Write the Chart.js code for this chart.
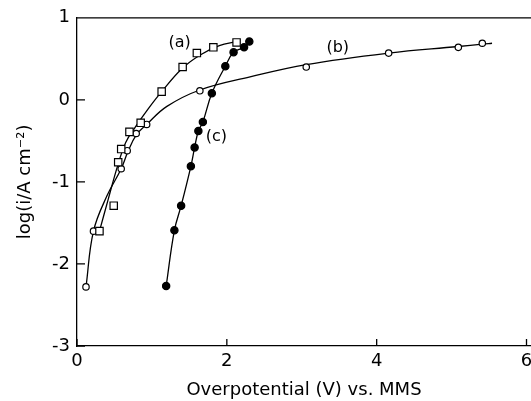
<!DOCTYPE html>
<html>
<head>
<meta charset="utf-8">
<script src="https://cdn.jsdelivr.net/npm/chart.js@4"></script>
<style>
  html, body { margin: 0; padding: 0; background: #fff; overflow: hidden; }
  #wrap { width: 531px; height: 401px; overflow: hidden; }
</style>
</head>
<body>
<div id="wrap"><canvas id="tafelChart" width="545" height="401"></canvas></div>
<script>
// (a) open squares
const aX = [0.30, 0.49, 0.55, 0.59, 0.70, 0.85, 1.13, 1.41, 1.60, 1.82, 2.13];
const aY = [-1.60, -1.29, -0.76, -0.60, -0.39, -0.28, 0.10, 0.40, 0.57, 0.64, 0.70];
// (a) fitted curve
const aCurveX = [0.30, 0.42, 0.55, 0.65, 0.78, 0.95, 1.13, 1.40, 1.65, 1.90, 2.13];
const aCurveY = [-1.60, -1.20, -0.78, -0.52, -0.33, -0.11, 0.10, 0.38, 0.55, 0.66, 0.71];

// (b) open circles
const bX = [0.12, 0.22, 0.59, 0.67, 0.79, 0.93, 1.64, 3.06, 4.16, 5.09, 5.41];
const bY = [-2.28, -1.60, -0.84, -0.62, -0.41, -0.30, 0.11, 0.40, 0.57, 0.64, 0.69];
// (b) fitted curve
const bCurveX = [0.12, 0.22, 0.40, 0.59, 0.68, 0.79, 0.93, 1.20, 1.64, 2.31, 3.06, 4.16, 5.09, 5.41, 5.54];
const bCurveY = [-2.28, -1.60, -1.17, -0.84, -0.63, -0.43, -0.30, -0.08, 0.12, 0.28, 0.43, 0.57, 0.65, 0.68, 0.69];

// (c) filled circles
const cX = [1.19, 1.30, 1.39, 1.52, 1.57, 1.62, 1.68, 1.80, 1.98, 2.09, 2.23, 2.30];
const cY = [-2.27, -1.59, -1.29, -0.81, -0.58, -0.38, -0.27, 0.08, 0.41, 0.58, 0.64, 0.71];

const xTicks = [0, 2, 4, 6];
const yTicks = [1, 0, -1, -2, -3];

const curveTags = ['(a)', '(b)', '(c)'];
const tagX = [1.37, 3.48, 1.86];
const tagY = [0.69, 0.63, -0.45];

const FONT = 'DejaVu Sans';

function pts(xs, ys) {
    return xs.map((x, i) => ({ x, y: ys[i] }));
}

// frame top line, inward ticks and the curve tags
const decorPlugin = {
    id: 'decor',
    afterDraw(chart) {
        const { ctx, chartArea, scales } = chart;
        ctx.save();
        ctx.strokeStyle = '#000';
        ctx.lineWidth = 1.3;
        ctx.beginPath();
        ctx.moveTo(chartArea.left, chartArea.top);
        ctx.lineTo(chartArea.right, chartArea.top);
        xTicks.forEach(v => {
            const px = scales.x.getPixelForValue(v);
            ctx.moveTo(px, chartArea.bottom);
            ctx.lineTo(px, chartArea.bottom - 7);
        });
        yTicks.forEach(v => {
            const py = scales.y.getPixelForValue(v);
            ctx.moveTo(chartArea.left, py);
            ctx.lineTo(chartArea.left + 8, py);
        });
        ctx.stroke();

        ctx.fillStyle = '#000';
        ctx.font = '16px "' + FONT + '"';
        ctx.textAlign = 'center';
        ctx.textBaseline = 'middle';
        curveTags.forEach((t, i) => {
            ctx.fillText(t, scales.x.getPixelForValue(tagX[i]), scales.y.getPixelForValue(tagY[i]));
        });
        ctx.restore();
    }
};

const lineStyle = {
    showLine: true,
    tension: 0.4,
    borderColor: '#000',
    borderWidth: 1.3
};

new Chart(document.getElementById('tafelChart').getContext('2d'), {
    type: 'scatter',
    data: {
        datasets: [
            {
                label: '(a) points',
                data: pts(aX, aY),
                pointStyle: 'rect',
                pointRadius: 5.2,
                backgroundColor: '#fff',
                borderColor: '#000',
                borderWidth: 1.2
            },
            {
                label: '(b) points',
                data: pts(bX, bY),
                pointStyle: 'circle',
                pointRadius: 3.2,
                backgroundColor: '#fff',
                borderColor: '#000',
                borderWidth: 1.2
            },
            Object.assign({
                label: '(c)',
                data: pts(cX, cY),
                pointStyle: 'circle',
                pointRadius: 3.6,
                backgroundColor: '#000'
            }, lineStyle),
            Object.assign({
                label: '(a)',
                data: pts(aCurveX, aCurveY),
                pointRadius: 0
            }, lineStyle),
            Object.assign({
                label: '(b)',
                data: pts(bCurveX, bCurveY),
                pointRadius: 0
            }, lineStyle)
        ]
    },
    options: {
        responsive: false,
        animation: false,
        events: [],
        layout: { padding: { top: 17, right: 14, bottom: 0, left: 0 } },
        plugins: {
            legend: { display: false },
            tooltip: { enabled: false }
        },
        scales: {
            x: {
                type: 'linear',
                min: 0,
                max: 6.06,
                afterBuildTicks: s => { s.ticks = xTicks.map(v => ({ value: v })); },
                afterFit: s => { s.height = 55; },
                grid: { display: true, drawOnChartArea: false, drawTicks: false },
                border: { display: true, color: '#000', width: 1.3 },
                ticks: {
                    color: '#000',
                    padding: 5,
                    maxRotation: 0,
                    font: { family: FONT, size: 18 }
                },
                title: {
                    display: true,
                    text: 'Overpotential (V) vs. MMS',
                    color: '#000',
                    padding: { top: 0, bottom: 0 },
                    font: { family: FONT, size: 18 }
                }
            },
            y: {
                type: 'linear',
                min: -3,
                max: 1,
                afterBuildTicks: s => { s.ticks = yTicks.map(v => ({ value: v })); },
                afterFit: s => { s.width = 77; },
                grid: { display: true, drawOnChartArea: false, drawTicks: false },
                border: { display: true, color: '#000', width: 1.3 },
                ticks: {
                    color: '#000',
                    padding: 7,
                    font: { family: FONT, size: 18 }
                },
                title: {
                    display: true,
                    text: 'log(i/A cm⁻²)',
                    color: '#000',
                    padding: { top: 15, bottom: 0 },
                    font: { family: FONT, size: 18 }
                }
            }
        }
    },
    plugins: [decorPlugin]
});
</script>
</body>
</html>
